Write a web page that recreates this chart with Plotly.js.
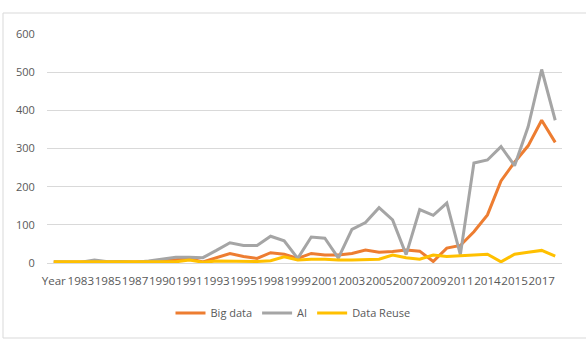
<!DOCTYPE html>
<html>
<head>
<meta charset="utf-8">
<script src="https://cdn.plot.ly/plotly-3.0.1.min.js"></script>
<style>
html,body{margin:0;padding:0;background:#fff;}
#chart{width:586px;height:349px;}
</style>
</head>
<body>
<div id="chart"></div>
<script>
// Categories (every other label is displayed on the axis)
const categories = ["Year","1982","1983","1984","1985","1986","1987","1989","1990","1990","1991","1992","1993","1994","1995","1996","1998","1998","1999","2000","2001","2002","2003","2004","2005","2006","2007","2008","2009","2010","2011","2012","2014","2014","2015","2016","2017","2018"];

const bigData = [2,2,2,2,2,3,3,3,5,8,12,3,15,25,17,12,27,23,12,25,21,21,25,34,28,30,34,31,4,39,46,82,126,215,264,307,374,316];
const ai = [3,2,2,8,3,4,2,5,10,15,15,14,33,53,46,46,70,58,12,68,65,13,88,106,145,113,22,140,125,157,22,262,270,305,255,357,507,374];
const dataReuse = [3,3,2,2,2,2,2,3,3,3,8,2,5,5,5,4,6,16,8,10,10,8,8,9,10,21,14,10,21,17,19,20,23,3,23,28,33,18];

const seriesNames = ["Big data","AI","Data Reuse"];
const seriesColors = ["#ED7D31","#A5A5A5","#FFC000"];

const xIdx = categories.map((_, i) => i);
const tickVals = xIdx.filter(i => i % 2 === 0);
const tickText = tickVals.map(i => categories[i]);

const font = "'Open Sans', 'Liberation Sans', sans-serif";

const traces = [bigData, ai, dataReuse].map((vals, k) => ({
  type: "scatter",
  mode: "lines",
  name: seriesNames[k],
  x: xIdx,
  y: vals,
  line: {color: seriesColors[k], width: 3},
  hoverinfo: "x+y+name"
}));

const layout = {
  width: 586,
  height: 349,
  margin: {l: 47, r: 24, t: 34, b: 86},
  paper_bgcolor: "#ffffff",
  plot_bgcolor: "#ffffff",
  font: {family: font, size: 11, color: "#595959"},
  showlegend: true,
  legend: {
    orientation: "h",
    xref: "container",
    yref: "container",
    x: 0.5,
    xanchor: "center",
    y: 0.103,
    yanchor: "middle",
    font: {family: font, size: 11, color: "#595959"},
    itemwidth: 30,
    tracegroupgap: 0
  },
  xaxis: {
    range: [-0.5, 37.5],
    tickmode: "array",
    tickvals: tickVals,
    ticktext: tickText,
    tickangle: 0,
    showgrid: false,
    zeroline: false,
    showline: true,
    linecolor: "#D9D9D9",
    linewidth: 1,
    ticks: "outside",
    ticklen: 7,
    tickcolor: "rgba(0,0,0,0)",
    tickfont: {family: font, size: 11.6, color: "#595959"},
    fixedrange: true
  },
  yaxis: {
    range: [0, 600],
    tickmode: "linear",
    tick0: 0,
    dtick: 100,
    showgrid: true,
    gridcolor: "#D9D9D9",
    gridwidth: 1,
    zeroline: false,
    showline: false,
    ticks: "outside",
    ticklen: 9,
    tickcolor: "rgba(0,0,0,0)",
    tickfont: {family: font, size: 11, color: "#595959"},
    fixedrange: true
  },
  shapes: [{
    type: "rect",
    xref: "paper",
    yref: "paper",
    x0: (3 - 47) / 515,
    x1: (590 - 47) / 515,
    y0: (263 - 338) / 229,
    y1: (263 - 13) / 229,
    line: {color: "#D9D9D9", width: 1},
    fillcolor: "rgba(0,0,0,0)",
    layer: "below"
  }]
};

Plotly.newPlot("chart", traces, layout, {displayModeBar: false, staticPlot: true});
</script>
</body>
</html>
